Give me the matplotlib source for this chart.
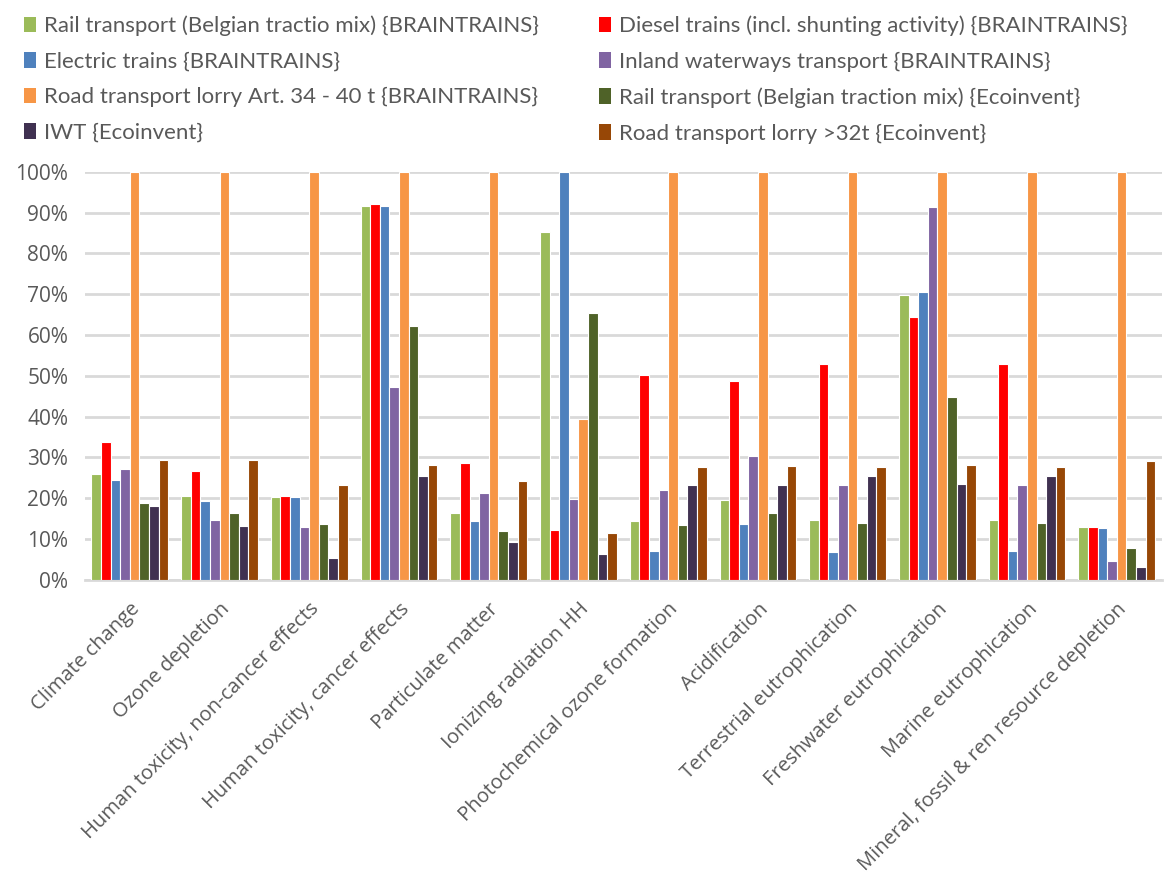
import numpy as np
import matplotlib.pyplot as plt
from matplotlib.patches import Patch

# categories and series
categories = ["Climate change", "Ozone depletion", "Human toxicity, non-cancer effects",
              "Human toxicity, cancer effects", "Particulate matter", "Ionizing radiation HH",
              "Photochemical ozone formation", "Acidification", "Terrestrial eutrophication",
              "Freshwater eutrophication", "Marine eutrophication",
              "Mineral, fossil & ren resource depletion"]

series_names = ["Rail transport (Belgian tractio mix) {BRAINTRAINS}",
                "Diesel trains (incl. shunting activity) {BRAINTRAINS}",
                "Electric trains {BRAINTRAINS}",
                "Inland waterways transport {BRAINTRAINS}",
                "Road transport lorry Art. 34 - 40 t {BRAINTRAINS}",
                "Rail transport (Belgian traction mix) {Ecoinvent}",
                "IWT {Ecoinvent}",
                "Road transport lorry >32t {Ecoinvent}"]

rail_braintrains = [26.0, 20.6, 20.3, 91.7, 16.4, 85.3, 14.3, 19.6, 14.6, 69.7, 14.6, 12.8]
diesel_trains = [33.8, 26.6, 20.6, 92.2, 28.6, 12.3, 50.1, 48.8, 52.9, 64.3, 52.9, 13.0]
electric_trains = [24.4, 19.4, 20.3, 91.7, 14.3, 100.0, 7.0, 13.6, 6.8, 70.6, 7.0, 12.7]
inland_waterways = [27.2, 14.6, 13.0, 47.2, 21.3, 19.7, 21.9, 30.3, 23.2, 91.3, 23.2, 4.6]
road_braintrains = [100.0, 100.0, 100.0, 100.0, 100.0, 39.4, 100.0, 100.0, 100.0, 100.0, 100.0, 100.0]
rail_ecoinvent = [18.8, 16.4, 13.6, 62.2, 12.0, 65.3, 13.3, 16.3, 14.0, 44.8, 14.0, 7.7]
iwt_ecoinvent = [18.0, 13.2, 5.4, 25.4, 9.2, 6.4, 23.2, 23.2, 25.4, 23.4, 25.4, 3.0]
road_ecoinvent = [29.4, 29.4, 23.1, 28.2, 24.2, 11.5, 27.6, 27.8, 27.6, 28.1, 27.6, 29.2]

all_series = [rail_braintrains, diesel_trains, electric_trains, inland_waterways,
              road_braintrains, rail_ecoinvent, iwt_ecoinvent, road_ecoinvent]
colors = ["#9BBB59", "#FF0000", "#4F81BD", "#8064A2",
          "#F79646", "#4F6228", "#403151", "#974706"]

plt.rcParams['font.family'] = ['Open Sans', 'DejaVu Sans']

fig = plt.figure(figsize=(11.64, 8.81), dpi=100)
ax = fig.add_axes([0.073, 0.342, 0.925, 0.463])

x = np.arange(len(categories))
step = 0.107
for i, vals in enumerate(all_series):
    ax.bar(x + (i - 3.5) * step, vals, width=step, color=colors[i],
           edgecolor="white", linewidth=0.8, zorder=3)

ax.set_xlim(-0.5, len(categories) - 0.5)
ax.set_ylim(0, 100)
ax.set_yticks(np.arange(0, 101, 10))
ax.set_yticklabels([f"{v}%" for v in range(0, 101, 10)], fontsize=15, color="#595959")
ax.yaxis.grid(True, color="#d9d9d9", linewidth=2, zorder=0)
ax.set_xticks(x)
ax.set_xticklabels(categories, rotation=45, ha="right", rotation_mode="anchor",
                   fontsize=14.5, color="#595959")
ax.tick_params(axis="both", length=0)
ax.tick_params(axis="y", pad=12)
ax.tick_params(axis="x", pad=14)
for s in ["top", "right", "left"]:
    ax.spines[s].set_visible(False)
ax.spines["bottom"].set_color("#d9d9d9")
ax.spines["bottom"].set_linewidth(2)

# legend in two columns, each one its own legend
handles = [Patch(facecolor=c) for c in colors]
leg_kw = dict(loc="upper left", frameon=False, handlelength=0.55, handleheight=0.7,
              handletextpad=0.35, labelspacing=0.7, borderpad=0.2,
              prop={"family": "Lato", "size": 16}, labelcolor="#595959")
fig.legend([handles[i] for i in (0, 2, 4, 6)], [series_names[i] for i in (0, 2, 4, 6)],
           bbox_to_anchor=(0.007, 1.0), **leg_kw)
fig.legend([handles[i] for i in (1, 3, 5, 7)], [series_names[i] for i in (1, 3, 5, 7)],
           bbox_to_anchor=(0.501, 1.0), **leg_kw)

plt.savefig("out.png", dpi=100)
